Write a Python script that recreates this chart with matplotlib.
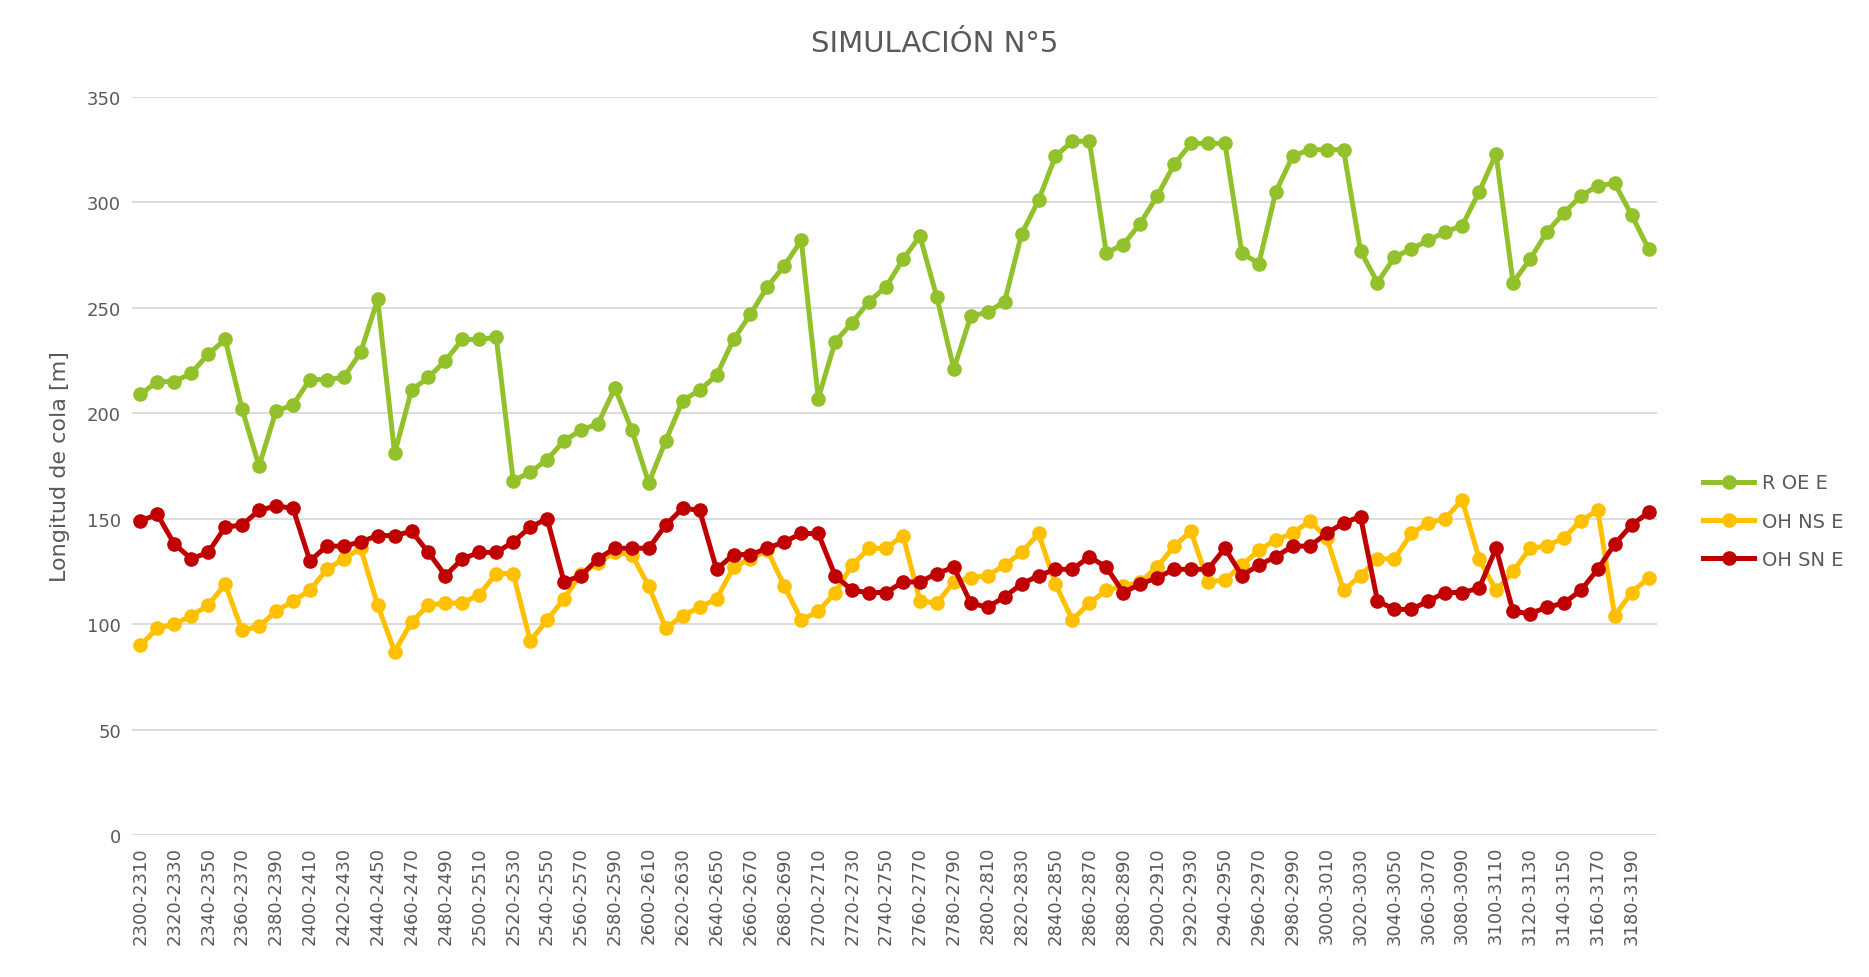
import numpy as np
import matplotlib.pyplot as plt

# categorias (intervalos de tiempo)
starts = list(range(2300, 3200, 10))
categorias = [f'{s}-{s + 10}' for s in starts]

r_oe_e = [209, 215, 215, 219, 228, 235, 202, 175, 201, 204,
          216, 216, 217, 229, 254, 181, 211, 217, 225, 235,
          235, 236, 168, 172, 178, 187, 192, 195, 212, 192,
          167, 187, 206, 211, 218, 235, 247, 260, 270, 282,
          207, 234, 243, 253, 260, 273, 284, 255, 221, 246,
          248, 253, 285, 301, 322, 329, 329, 276, 280, 290,
          303, 318, 328, 328, 328, 276, 271, 305, 322, 325,
          325, 325, 277, 262, 274, 278, 282, 286, 289, 305,
          323, 262, 273, 286, 295, 303, 308, 309, 294, 278]

oh_ns_e = [90, 98, 100, 104, 109, 119, 97, 99, 106, 111,
           116, 126, 131, 136, 109, 87, 101, 109, 110, 110,
           114, 124, 124, 92, 102, 112, 124, 129, 134, 133,
           118, 98, 104, 108, 112, 127, 131, 135, 118, 102,
           106, 115, 128, 136, 136, 142, 111, 110, 120, 122,
           123, 128, 134, 143, 119, 102, 110, 116, 118, 120,
           127, 137, 144, 120, 121, 128, 135, 140, 143, 149,
           141, 116, 123, 131, 131, 143, 148, 150, 159, 131,
           116, 125, 136, 137, 141, 149, 154, 104, 115, 122]

oh_sn_e = [149, 152, 138, 131, 134, 146, 147, 154, 156, 155,
           130, 137, 137, 139, 142, 142, 144, 134, 123, 131,
           134, 134, 139, 146, 150, 120, 123, 131, 136, 136,
           136, 147, 155, 154, 126, 133, 133, 136, 139, 143,
           143, 123, 116, 115, 115, 120, 120, 124, 127, 110,
           108, 113, 119, 123, 126, 126, 132, 127, 115, 119,
           122, 126, 126, 126, 136, 123, 128, 132, 137, 137,
           143, 148, 151, 111, 107, 107, 111, 115, 115, 117,
           136, 106, 105, 108, 110, 116, 126, 138, 147, 153]

series = [('R OE E', r_oe_e, '#92C12B'),
          ('OH NS E', oh_ns_e, '#FFC000'),
          ('OH SN E', oh_sn_e, '#C00000')]

fig = plt.figure(figsize=(18.69, 9.78), dpi=100)
ax = fig.add_axes([0.0706, 0.1452, 0.816, 0.7546])

x = np.arange(len(categorias))
for nombre, valores, color in series:
    ax.plot(x, valores, color=color, linewidth=3.6, marker='o',
            markersize=9.5, label=nombre)

ax.set_xlim(-0.5, len(categorias) - 0.5)
ax.set_ylim(0, 350)
ax.set_yticks(range(0, 351, 50))
ax.set_xticks(x[::2])
ax.set_xticklabels(categorias[::2], rotation=90)
ax.tick_params(axis='both', length=0, labelsize=13, colors='#595959', pad=8)
ax.grid(axis='y', color='#D9D9D9', linewidth=1.3)
ax.set_axisbelow(True)
for s in ax.spines.values():
    s.set_visible(False)

ax.set_ylabel('Longitud de cola [m]', fontsize=16, color='#595959', labelpad=12)
fig.text(0.5, 0.955, 'SIMULACIÓN N°5', ha='center', va='center',
         fontsize=21, color='#595959')

fig.legend(loc='center left', bbox_to_anchor=(0.902, 0.466), frameon=False,
           fontsize=14, labelcolor='#595959', handlelength=2.6,
           labelspacing=1.0, handletextpad=0.4)

fig.savefig('out.png', dpi=100)
